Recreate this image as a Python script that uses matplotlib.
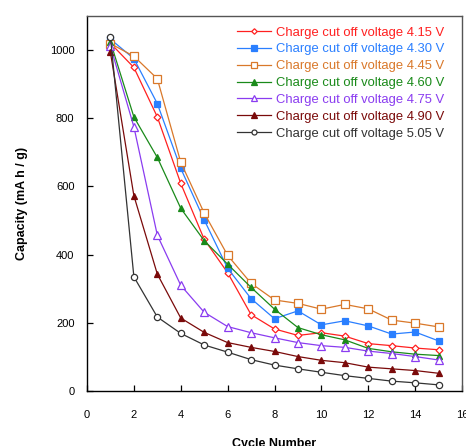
import matplotlib
matplotlib.use("Agg")
import matplotlib.pyplot as plt

plt.rcParams['font.family'] = ['Liberation Sans', 'DejaVu Sans']

cycles = list(range(1, 16))
labels = ["Charge cut off voltage 4.15 V", "Charge cut off voltage 4.30 V",
          "Charge cut off voltage 4.45 V", "Charge cut off voltage 4.60 V",
          "Charge cut off voltage 4.75 V", "Charge cut off voltage 4.90 V",
          "Charge cut off voltage 5.05 V"]
v415 = [1020, 949, 804, 609, 445, 347, 224, 182, 163, 171, 161, 139, 133, 126, 121]
v430 = [1032, 975, 843, 653, 502, 360, 271, 212, 235, 194, 206, 191, 167, 173, 147]
v445 = [1019, 982, 916, 671, 522, 398, 316, 267, 257, 240, 254, 241, 208, 199, 188]
v460 = [1024, 804, 685, 536, 441, 372, 304, 240, 186, 165, 150, 125, 115, 108, 104]
v475 = [1012, 775, 457, 310, 231, 189, 171, 156, 142, 133, 128, 117, 110, 101, 91]
v490 = [993, 573, 343, 214, 172, 142, 128, 116, 101, 90, 83, 70, 65, 60, 52]
v505 = [1039, 335, 217, 169, 135, 114, 92, 76, 65, 55, 45, 37, 29, 24, 18]

series = [v415, v430, v445, v460, v475, v490, v505]
colors = ['#ff2020', '#2a7fff', '#d9782a', '#1a8a1a', '#8a3cf0', '#7a0a0a', '#333333']
markers = ['D', 's', 's', '^', '^', '^', 'o']
sizes = [3.5, 5, 5.5, 5, 5.5, 5, 4.5]
filled = [False, True, False, True, False, True, False]

fig = plt.figure(figsize=(4.66, 4.46), dpi=100)
ax = fig.add_axes([87/466, 1 - 391/446, (462-87)/466, (391-16)/446])

for vals, lab, c, m, s, f in zip(series, labels, colors, markers, sizes, filled):
    ax.plot(cycles, vals, color=c, marker=m, markersize=s, linewidth=0.9,
            markerfacecolor=c if f else 'white', markeredgecolor=c,
            markeredgewidth=0.9, label=lab)

ax.set_xlim(0, 16)
ax.set_ylim(0, 1100)
ax.set_xticks(range(0, 17, 2))
ax.set_yticks(range(0, 1001, 200))
ax.tick_params(direction='in', length=4, labelsize=8, width=0.9)
ax.tick_params(axis='x', pad=14)
ax.tick_params(axis='y', pad=9)
for sp in ['left', 'bottom']:
    ax.spines[sp].set_color('black')
    ax.spines[sp].set_linewidth(1.0)
for sp in ['top', 'right']:
    ax.spines[sp].set_color('#555555')
    ax.spines[sp].set_linewidth(1.0)

ax.set_xlabel('Cycle Number', fontsize=9, fontweight='bold', labelpad=13)
ax.set_ylabel('Capacity (mA h / g)', fontsize=9, fontweight='bold', labelpad=16)

leg = ax.legend(loc='upper right', frameon=False, fontsize=9.4, handlelength=2.6,
                handletextpad=0.35, labelspacing=0.36, borderaxespad=0.0,
                borderpad=0.0, bbox_to_anchor=(0.952, 0.972))
for txt, c in zip(leg.get_texts(), colors):
    txt.set_color(c)
for h in leg.legend_handles:
    h.set_markersize(h.get_markersize() * 0.8)

fig.savefig('out.png', dpi=100)
